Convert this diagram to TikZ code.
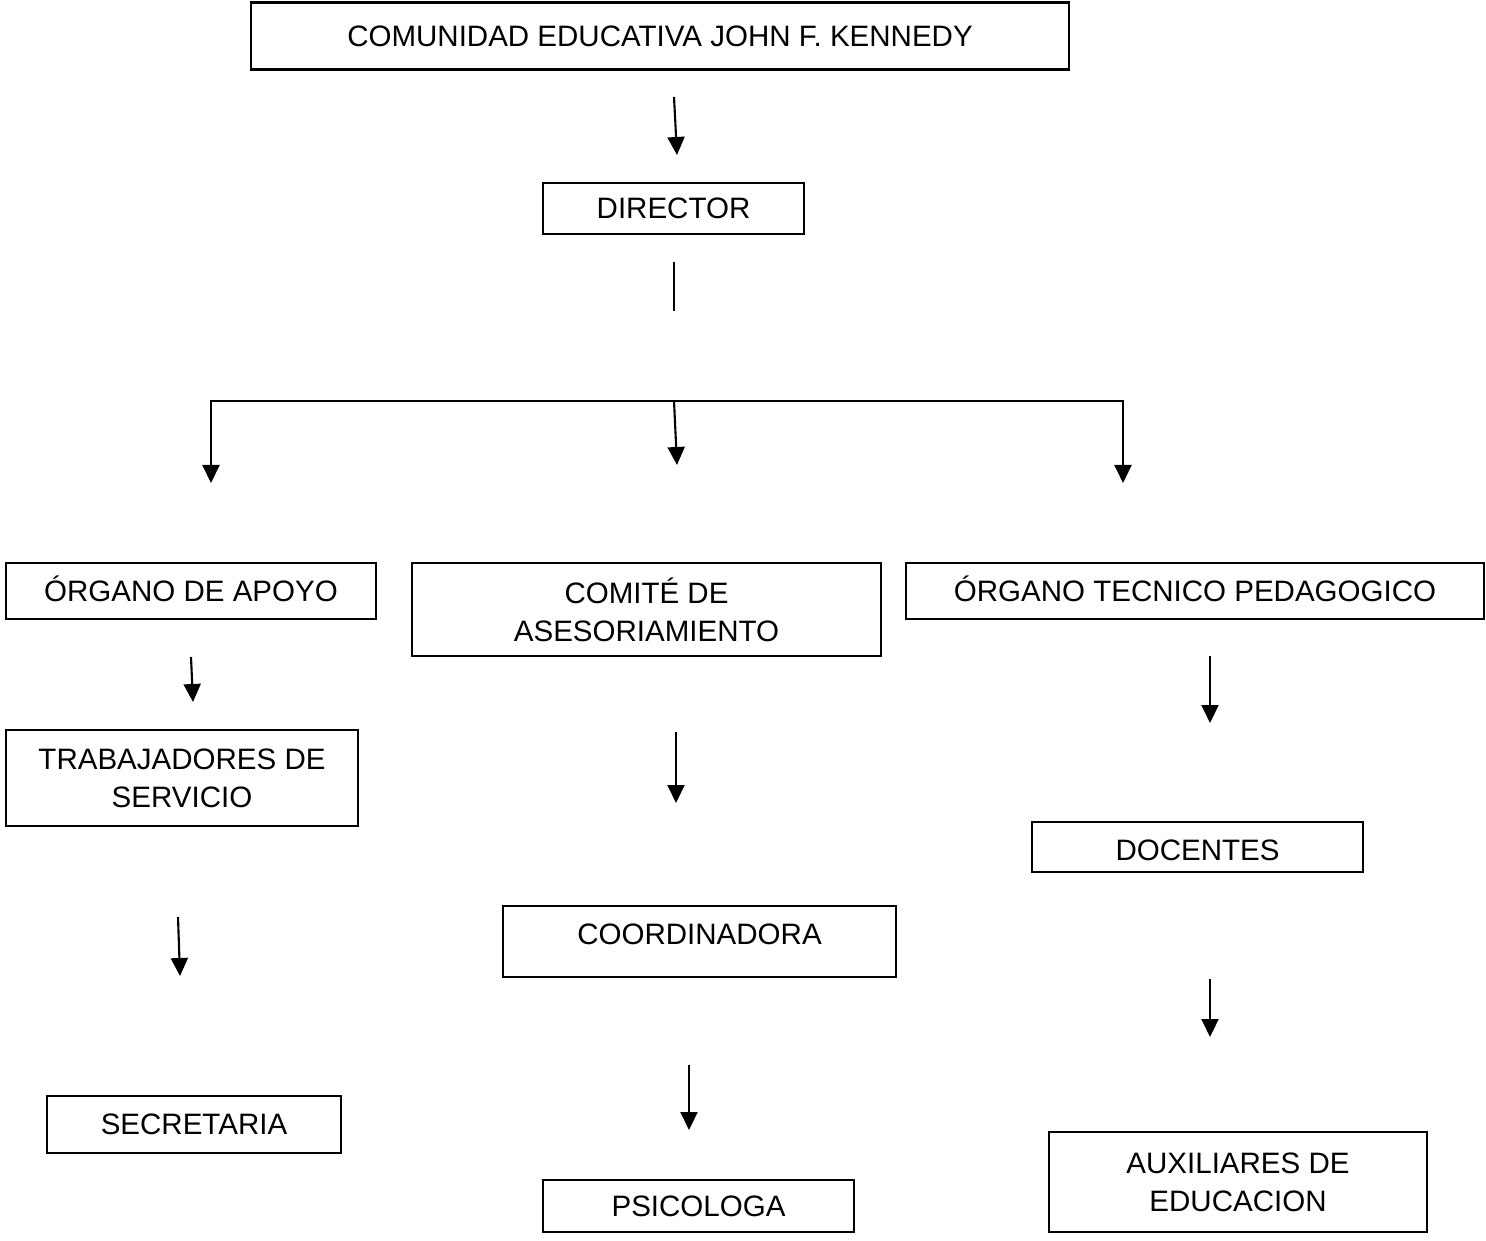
\documentclass[tikz,border=0pt]{standalone}
\usepackage{fontspec}
\setmainfont{Liberation Sans}
\usetikzlibrary{
    positioning,
    arrows.meta
}
\tikzset{
    cargo/.style={
        draw,
        line width=0.6pt,
        inner sep=0pt,
        align=center,
        font=\fontsize{8.4}{10.8}\selectfont
    },
    flecha/.style={
        -{Triangle[length=1.8mm,width=1.7mm]},
        line width=0.6pt
    }
}

\begin{document}
\begin{tikzpicture}[
    x=0.1mm,
    y=-0.1mm
]
    \useasboundingbox (0,0) rectangle (1486,1241);

    % Cargos
    \node[cargo, minimum width=81.8mm, minimum height=6.7mm] (comunidad) at (660,36)     {COMUNIDAD EDUCATIVA JOHN F. KENNEDY};
    \node[cargo, minimum width=26.1mm, minimum height=5.1mm] (director)  at (673.5,208.5) {DIRECTOR};

    \node[cargo, minimum width=37mm,   minimum height=5.6mm, text height=6pt] (apoyo)   at (191,591)    {ÓRGANO DE APOYO};
    \node[cargo, minimum width=46.9mm, minimum height=9.3mm] (comite)   at (646.5,609.5) {COMITÉ DE\\ASESORIAMIENTO};
    \node[cargo, minimum width=57.8mm, minimum height=5.6mm, text height=6pt] (tecnico) at (1195,591)   {ÓRGANO TECNICO PEDAGOGICO};

    \node[cargo, minimum width=35.2mm, minimum height=9.6mm] (trabajadores) at (182,778)     {TRABAJADORES DE\\SERVICIO};
    \node[cargo, minimum width=29.4mm, minimum height=5.7mm] (secretaria)   at (194,1124.5)  {SECRETARIA};

    \node[cargo, minimum width=39.3mm, minimum height=7.1mm, text depth=4pt] (coordinadora) at (699.5,941.5) {COORDINADORA};
    \node[cargo, minimum width=31.1mm, minimum height=5.2mm] (psicologa)    at (698.5,1206)  {PSICOLOGA};

    \node[cargo, minimum width=33.1mm, minimum height=5mm, text height=8pt] (docentes) at (1197.5,847) {DOCENTES};
    \node[cargo, minimum width=37.8mm, minimum height=10mm] (auxiliares)  at (1238,1182)   {AUXILIARES DE\\EDUCACION};

    % Extremos de las flechas sueltas
    \coordinate (c1s) at (674,97);   \coordinate (c1e) at (677,155);
    \coordinate (d1s) at (674,262);  \coordinate (d1e) at (674,311);
    \coordinate (hizq) at (211,401); \coordinate (hizqfin) at (211,483);
    \coordinate (hder) at (1123,401); \coordinate (hderfin) at (1123,483);
    \coordinate (hmed) at (674,401); \coordinate (hmedfin) at (677,465);
    \coordinate (a1s) at (191,657);  \coordinate (a1e) at (193,702);
    \coordinate (a2s) at (178,917);  \coordinate (a2e) at (180,976);
    \coordinate (b1s) at (676,732);  \coordinate (b1e) at (676,803);
    \coordinate (b2s) at (689,1065); \coordinate (b2e) at (689,1130);
    \coordinate (t1s) at (1210,656); \coordinate (t1e) at (1210,723);
    \coordinate (t2s) at (1210,979); \coordinate (t2e) at (1210,1037);

    % Linea del director
    \draw[line width=0.6pt] (d1s) -- (d1e);

    % Ramificacion
    \draw[flecha, {Triangle[length=1.8mm,width=1.7mm]}-{Triangle[length=1.8mm,width=1.7mm]}]
        (hizqfin) -- (hizq) -- (hder) -- (hderfin);

    % Flechas
    \path[flecha]
        (c1s) edge (c1e)
        (hmed) edge (hmedfin)

        % Organo de apoyo
        (a1s) edge (a1e)
        (a2s) edge (a2e)

        % Comite de asesoriamiento
        (b1s) edge (b1e)
        (b2s) edge (b2e)

        % Organo tecnico pedagogico
        (t1s) edge (t1e)
        (t2s) edge (t2e);

\end{tikzpicture}
\end{document}
